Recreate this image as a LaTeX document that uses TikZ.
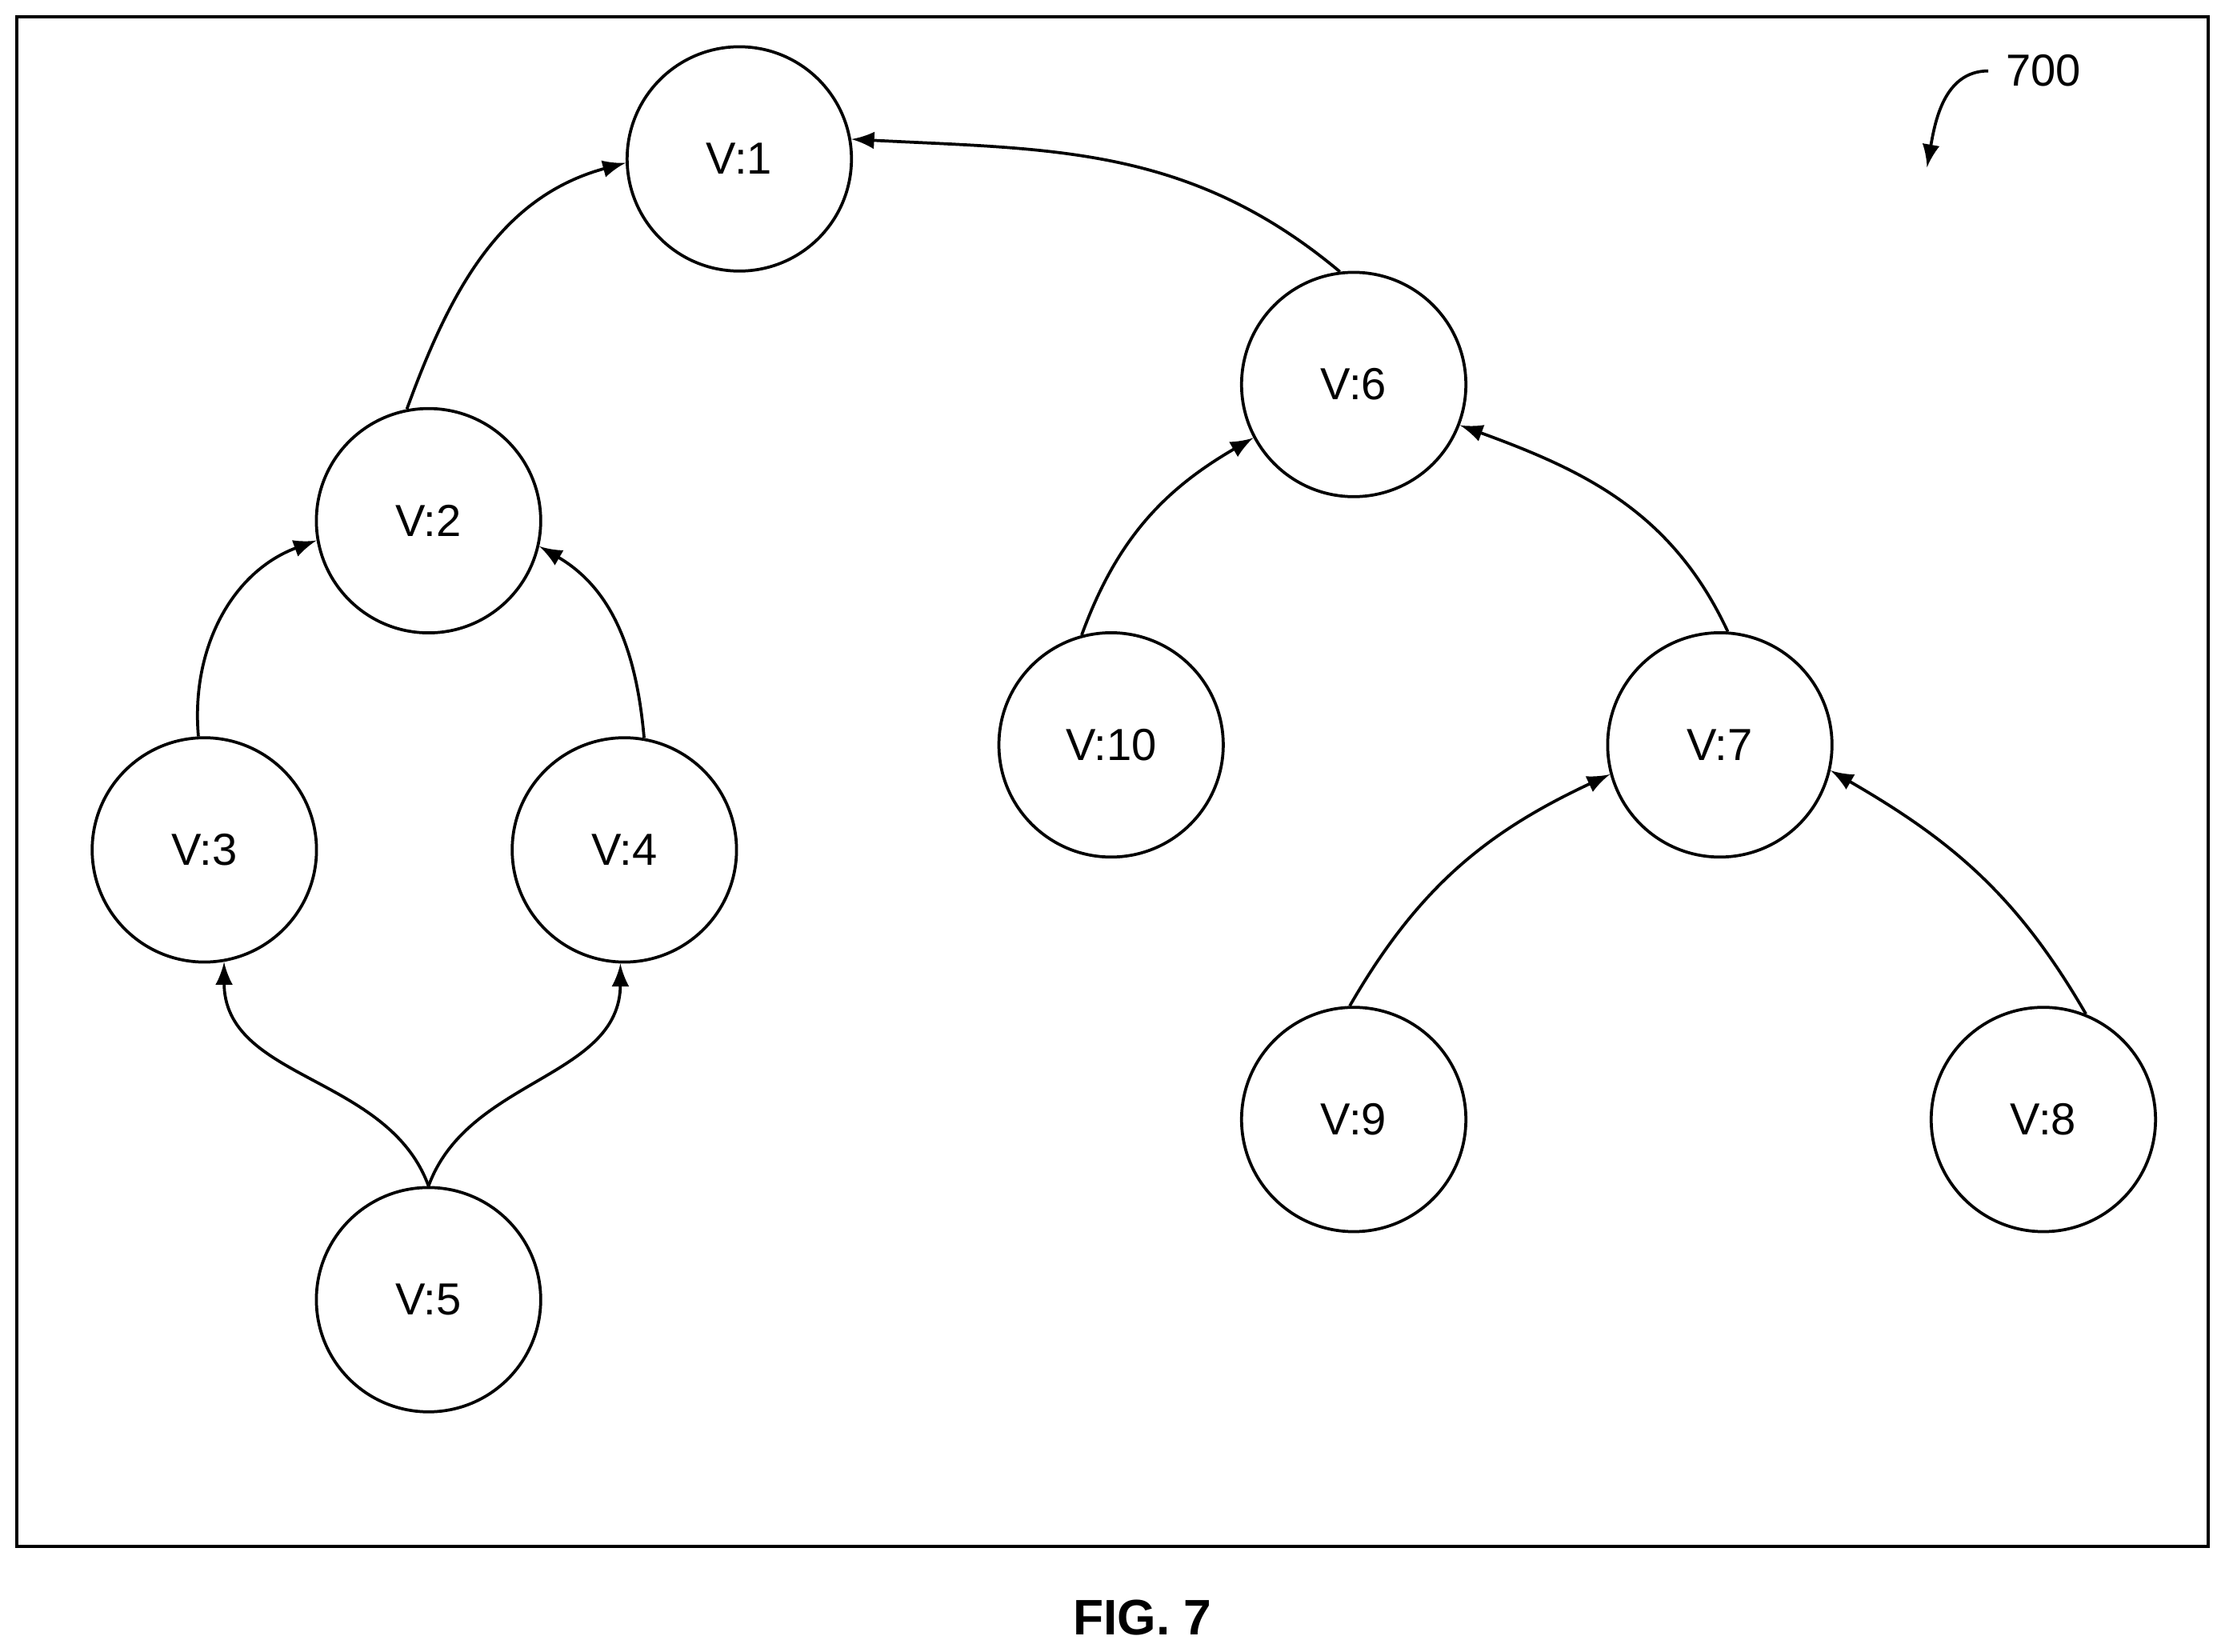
\documentclass[tikz,border=0pt]{standalone}
\usepackage{fontspec}
\setmainfont{Liberation Sans}
\usetikzlibrary{arrows}
\begin{document}
\begin{tikzpicture}[x=0.01cm,y=-0.01cm,
  vertex/.style={circle,draw,semithick,minimum size=1.58cm,inner sep=0pt,font=\small},
  edge/.style={semithick,-latex}]
\useasboundingbox (0,0) rectangle (1568,1164);

%%Frame
\draw[semithick] (12,12) rectangle (1556,1090);

%%Vertices
\node[vertex] (v1) at (521,112) {V:1};
\node[vertex] (v2) at (302,367) {V:2};
\node[vertex] (v3) at (144,599) {V:3};
\node[vertex] (v4) at (440,599) {V:4};
\node[vertex] (v5) at (302,916) {V:5};
\node[vertex] (v6) at (954,271) {V:6};
\node[vertex] (v10) at (783,525) {V:10};
\node[vertex] (v7) at (1212,525) {V:7};
\node[vertex] (v9) at (954,789) {V:9};
\node[vertex] (v8) at (1440,789) {V:8};

%%Edges
\draw[edge] (v2.101) to[out=70,in=195] (v1.182);
\draw[edge] (v6.97) to[out=140,in=-3] (v1.10);
\draw[edge] (v3.93) to[out=95,in=200] (v2.190);
\draw[edge] (v4.80) to[out=95,in=-30] (v2.347);
\draw[edge] (v5.90) to[out=110,in=-90] (v3.280);
\draw[edge] (v5.90) to[out=70,in=-90] (v4.268);
\draw[edge] (v10.105) to[out=70,in=210] (v6.208);
\draw[edge] (v7.86) to[out=115,in=-20] (v6.339);
\draw[edge] (v9.92) to[out=60,in=205] (v7.195);
\draw[edge] (v8.68) to[out=120,in=-30] (v7.347);

%%Reference numeral
\node[font=\small] (ref) at (1440,50) {700};
\draw[edge] (ref.west) to[out=180,in=80] (1358,118);

%%Caption
\node[font=\normalsize\bfseries] (cap) at (805,1140) {FIG. 7};
\end{tikzpicture}
\end{document}
